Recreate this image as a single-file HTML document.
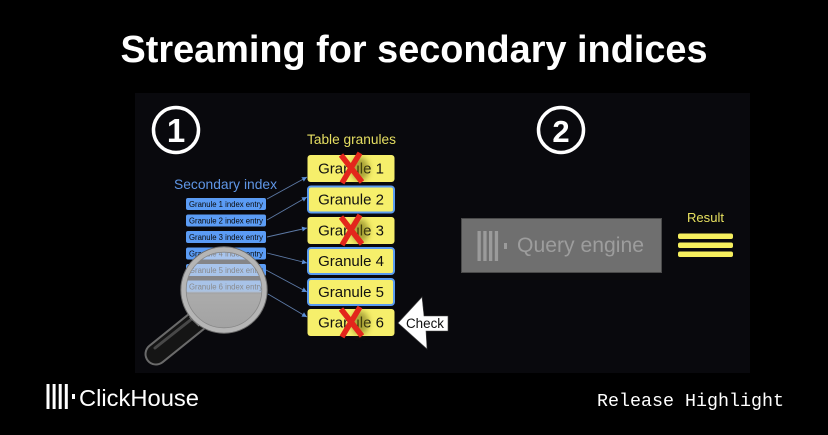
<!DOCTYPE html>
<html>
<head>
<meta charset="utf-8">
<style>
  html,body{margin:0;padding:0;background:#000;}
  body{width:828px;height:435px;overflow:hidden;}
  svg{display:block;}
</style>
</head>
<body>
<svg width="828" height="435" viewBox="0 0 828 435" xmlns="http://www.w3.org/2000/svg">
  <defs>
    <marker id="ah" markerWidth="6" markerHeight="6" refX="5" refY="3" orient="auto" markerUnits="userSpaceOnUse">
      <path d="M0,0.5 L5,3 L0,5.5 z" fill="#5b8fd8"/>
    </marker>
    <filter id="blur" x="-50%" y="-50%" width="200%" height="200%">
      <feGaussianBlur stdDeviation="3"/>
    </filter>
    <linearGradient id="lens" x1="0" y1="0" x2="0" y2="1">
      <stop offset="0" stop-color="#e8e8ec" stop-opacity="0.55"/>
      <stop offset="0.5" stop-color="#dcdcdc" stop-opacity="0.6"/>
      <stop offset="0.56" stop-color="#ababab" stop-opacity="1"/>
      <stop offset="1" stop-color="#a2a2a2" stop-opacity="1"/>
    </linearGradient>
  </defs>

  <rect width="828" height="435" fill="#000"/>
  <rect x="135" y="93" width="615" height="280" fill="#09090d"/>

  <!-- Title -->
  <text x="414" y="62" text-anchor="middle" font-family="Liberation Sans, sans-serif" font-weight="bold" font-size="38" fill="#fff" textLength="587" lengthAdjust="spacingAndGlyphs">Streaming for secondary indices</text>

  <!-- Numbered circles -->
  <circle cx="176" cy="130" r="22.5" fill="none" stroke="#fff" stroke-width="3.5"/>
  <text x="176" y="142" text-anchor="middle" font-family="Liberation Sans, sans-serif" font-weight="bold" font-size="33" fill="#fff">1</text>
  <circle cx="561" cy="130" r="22.5" fill="none" stroke="#fff" stroke-width="3.5"/>
  <text x="561" y="142" text-anchor="middle" font-family="Liberation Sans, sans-serif" font-weight="bold" font-size="31" fill="#fff">2</text>

  <!-- Labels -->
  <text x="307" y="144" font-family="Liberation Sans, sans-serif" font-size="13.5" fill="#e6df62" textLength="89" lengthAdjust="spacingAndGlyphs">Table granules</text>
  <text x="174" y="189" font-family="Liberation Sans, sans-serif" font-size="13.8" fill="#5f96e6" textLength="103" lengthAdjust="spacingAndGlyphs">Secondary index</text>

  <!-- Connectors -->
  <g stroke="#5d7aa6" stroke-width="0.9" fill="none" marker-end="url(#ah)">
    <line x1="267" y1="199" x2="307" y2="177"/>
    <line x1="267" y1="220" x2="307" y2="197"/>
    <line x1="267" y1="237" x2="307" y2="228"/>
    <line x1="267" y1="253" x2="307" y2="263"/>
    <line x1="266" y1="270" x2="307" y2="292"/>
    <line x1="268" y1="294" x2="307" y2="317"/>
  </g>

  <!-- Index entries -->
  <g font-family="Liberation Sans, sans-serif" font-size="7.8" fill="#0a0a0a">
    <rect x="186" y="198" width="80" height="12" rx="2" fill="#5b9cf5"/>
    <text x="189" y="207.2" textLength="74" lengthAdjust="spacingAndGlyphs">Granule 1 index entry</text>
    <rect x="186" y="214.5" width="80" height="12" rx="2" fill="#5b9cf5"/>
    <text x="189" y="223.7" textLength="74" lengthAdjust="spacingAndGlyphs">Granule 2 index entry</text>
    <rect x="186" y="231" width="80" height="12" rx="2" fill="#5b9cf5"/>
    <text x="189" y="240.2" textLength="74" lengthAdjust="spacingAndGlyphs">Granule 3 index entry</text>
    <rect x="186" y="247.5" width="80" height="12" rx="2" fill="#5b9cf5"/>
    <text x="189" y="256.7" textLength="74" lengthAdjust="spacingAndGlyphs">Granule 4 index entry</text>
    <rect x="186" y="264" width="80" height="12" rx="2" fill="#5b9cf5"/>
    <text x="189" y="273.2" textLength="74" lengthAdjust="spacingAndGlyphs">Granule 5 index entry</text>
    <rect x="186" y="280.5" width="80" height="12" rx="2" fill="#5b9cf5"/>
    <text x="189" y="289.7" textLength="74" lengthAdjust="spacingAndGlyphs">Granule 6 index entry</text>
  </g>

  <!-- Granules -->
  <g font-family="Liberation Sans, sans-serif" font-size="15" fill="#111" text-anchor="middle">
    <rect x="307.5" y="155" width="87" height="27" rx="3" fill="#f6ef6b"/>
    <text x="351" y="173.5">Granule 1</text>
    <rect x="308" y="186.5" width="86" height="26" rx="3" fill="#f6ef6b" stroke="#5a9bf0" stroke-width="2"/>
    <text x="351" y="204.5">Granule 2</text>
    <rect x="307.5" y="217" width="87" height="27" rx="3" fill="#f6ef6b"/>
    <text x="351" y="235.5">Granule 3</text>
    <rect x="308" y="248" width="86" height="26" rx="3" fill="#f6ef6b" stroke="#5a9bf0" stroke-width="2"/>
    <text x="351" y="266">Granule 4</text>
    <rect x="308" y="279" width="86" height="26" rx="3" fill="#f6ef6b" stroke="#5a9bf0" stroke-width="2"/>
    <text x="351" y="297">Granule 5</text>
    <rect x="307.5" y="309" width="87" height="27" rx="3" fill="#f6ef6b"/>
    <text x="351" y="327.5">Granule 6</text>
  </g>

  <!-- Red X marks with shadow -->
  <g>
    <ellipse cx="360" cy="169" rx="9" ry="12" fill="#6d6810" opacity="0.55" filter="url(#blur)"/>
    <ellipse cx="360" cy="231" rx="9" ry="12" fill="#6d6810" opacity="0.55" filter="url(#blur)"/>
    <ellipse cx="360" cy="323" rx="9" ry="12" fill="#6d6810" opacity="0.55" filter="url(#blur)"/>
    <g stroke="#e3261c" stroke-width="5.5" stroke-linecap="butt">
      <line x1="341" y1="155" x2="362" y2="182"/>
      <line x1="360" y1="153" x2="342" y2="183"/>
      <line x1="341" y1="217" x2="362" y2="244"/>
      <line x1="360" y1="215" x2="342" y2="245"/>
      <line x1="341" y1="309" x2="362" y2="336"/>
      <line x1="360" y1="307" x2="342" y2="337"/>
    </g>
  </g>

  <!-- Check arrow -->
  <polygon points="398,323 422,297 424,316 448,316 448,331 426,331 427,349" fill="#fff" stroke="#444" stroke-width="0.6"/>
  <text x="406" y="328" font-family="Liberation Sans, sans-serif" font-size="13.5" fill="#111" textLength="38" lengthAdjust="spacingAndGlyphs">Check</text>

  <!-- Magnifier -->
  <g>
    <line x1="197" y1="321" x2="156" y2="354" stroke="#6a6a6a" stroke-width="23" stroke-linecap="round"/>
    <line x1="197" y1="321" x2="156" y2="354" stroke="#151515" stroke-width="19" stroke-linecap="round"/>
    <line x1="193" y1="318" x2="155" y2="348" stroke="#555" stroke-width="3" stroke-linecap="round" opacity="0.8"/>
    <line x1="209" y1="306" x2="194" y2="322" stroke="#8e8e8e" stroke-width="13"/>
    <circle cx="224" cy="290" r="40" fill="url(#lens)"/>
    <circle cx="224" cy="290" r="40.5" fill="none" stroke="#b5b5b5" stroke-width="5"/>
    <circle cx="224" cy="290" r="43.2" fill="none" stroke="#6e6e6e" stroke-width="1"/>
    <circle cx="224" cy="290" r="37.8" fill="none" stroke="#888" stroke-width="0.8"/>
  </g>

  <!-- Query engine -->
  <rect x="461.5" y="218.5" width="200" height="54" fill="#6f6f6f" stroke="#4a4a4a" stroke-width="1"/>
  <g fill="#9b9b9b">
    <rect x="477.5" y="231" width="3.3" height="30"/>
    <rect x="483.3" y="231" width="3.3" height="30"/>
    <rect x="489" y="231" width="3.3" height="30"/>
    <rect x="494.8" y="231" width="3.3" height="30"/>
    <rect x="504" y="243" width="3" height="6"/>
  </g>
  <text x="517" y="252" font-family="Liberation Sans, sans-serif" font-size="21" fill="#9d9d9d" textLength="127" lengthAdjust="spacingAndGlyphs">Query engine</text>

  <!-- Result -->
  <text x="687" y="222" font-family="Liberation Sans, sans-serif" font-size="13" fill="#e8e15f" textLength="37" lengthAdjust="spacingAndGlyphs">Result</text>
  <g fill="#f6ef5e">
    <rect x="678" y="233.5" width="55" height="5.5" rx="2"/>
    <rect x="678" y="242.5" width="55" height="5.5" rx="2"/>
    <rect x="678" y="251.5" width="55" height="5.5" rx="2"/>
  </g>

  <!-- Footer -->
  <g fill="#fff">
    <rect x="46.5" y="384" width="3" height="25"/>
    <rect x="52.6" y="384" width="3" height="25"/>
    <rect x="58.7" y="384" width="3" height="25"/>
    <rect x="64.8" y="384" width="3" height="25"/>
    <rect x="72" y="394" width="3" height="5"/>
  </g>
  <text x="79" y="406" font-family="Liberation Sans, sans-serif" font-size="23" fill="#fff" textLength="120" lengthAdjust="spacingAndGlyphs">ClickHouse</text>
  <text x="597" y="406" font-family="Liberation Mono, monospace" font-size="18" fill="#fff" textLength="187" lengthAdjust="spacingAndGlyphs">Release Highlight</text>
</svg>
</body>
</html>
